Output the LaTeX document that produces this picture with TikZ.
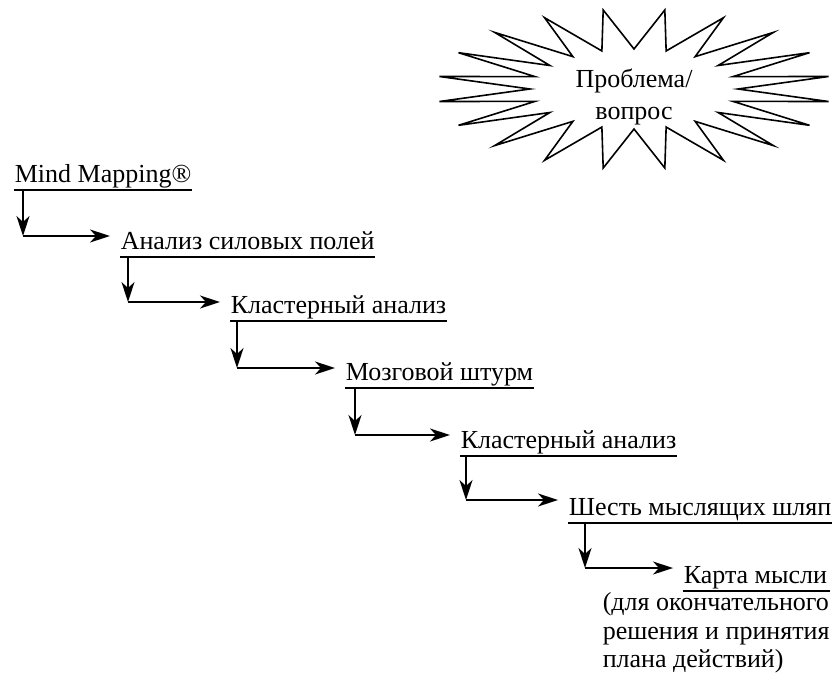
\documentclass[tikz,border=0pt]{standalone}
\usepackage{fontspec}
\setmainfont{Liberation Serif}
\usetikzlibrary{arrows.meta}

\begin{document}
\begin{tikzpicture}[x=0.5pt, y=-0.5pt, line width=0.8pt,
    >={Stealth[length=10pt, width=6.5pt, inset=3pt]},
    stepline/.style={anchor=south west, inner xsep=0pt, inner ysep=3.5pt,
      text depth=0pt, font=\fontsize{13}{15}\selectfont}]
    % Размеры листа
    \useasboundingbox (0,0) rectangle (838,674);

    % Звезда: проблема
    \def\cx{634}
    \def\cy{89}
    \draw ({\cx+197*cos(9)},{\cy-80*sin(9)})
      \foreach \i in {1,...,19} {
        -- ({\cx+104*cos(18*\i)},{\cy-40*sin(18*\i)})
        -- ({\cx+197*cos(9+18*\i)},{\cy-80*sin(9+18*\i)})
      } -- ({\cx+104},\cy) -- cycle;
    \node[align=center, font=\fontsize{13}{16}\selectfont] (problem) at (\cx,97)
      {Проблема/\\вопрос};

    % Ступени
    \node[stepline] (m1) at (14,190) {Mind Mapping®};
    \node[stepline] (m2) at (120,257) {Анализ силовых полей};
    \node[stepline] (m3) at (230,321) {Кластерный анализ};
    \node[stepline] (m4) at (345,388) {Мозговой штурм};
    \node[stepline] (m5) at (460,456) {Кластерный анализ};
    \node[stepline] (m6) at (568,523) {Шесть мыслящих шляп};
    \node[stepline] (m7) at (683,591) {Карта мысли};
    \node[anchor=north west, align=left, inner sep=0pt,
      font=\fontsize{13}{14.2}\selectfont] (note) at (602,592)
      {(для окончательного\\решения и принятия\\плана действий)};

    % Подчёркивания
    \foreach \n in {m1,m2,m3,m4,m5,m6}
      \draw[line width=0.6pt] (\n.south west) -- (\n.south east);
    \draw[line width=0.6pt] (m7.south west) -- (m7.south west -| note.east);

    % Углы стрелок
    \coordinate (k2) at (23,236);
    \coordinate (k3) at (128,302);
    \coordinate (k4) at (237,368);
    \coordinate (k5) at (355,435);
    \coordinate (k6) at (466,500);
    \coordinate (k7) at (585,568);

    % Стрелки вниз и вправо
    \foreach \a/\b/\k in {m1/m2/k2, m2/m3/k3, m3/m4/k4, m4/m5/k5, m5/m6/k6, m6/m7/k7} {
      \draw[->] (\k |- \a.south) -- (\k);
      \draw[->, shorten >=5pt] (\k) -- (\k -| \b.west);
    }
\end{tikzpicture}
\end{document}
